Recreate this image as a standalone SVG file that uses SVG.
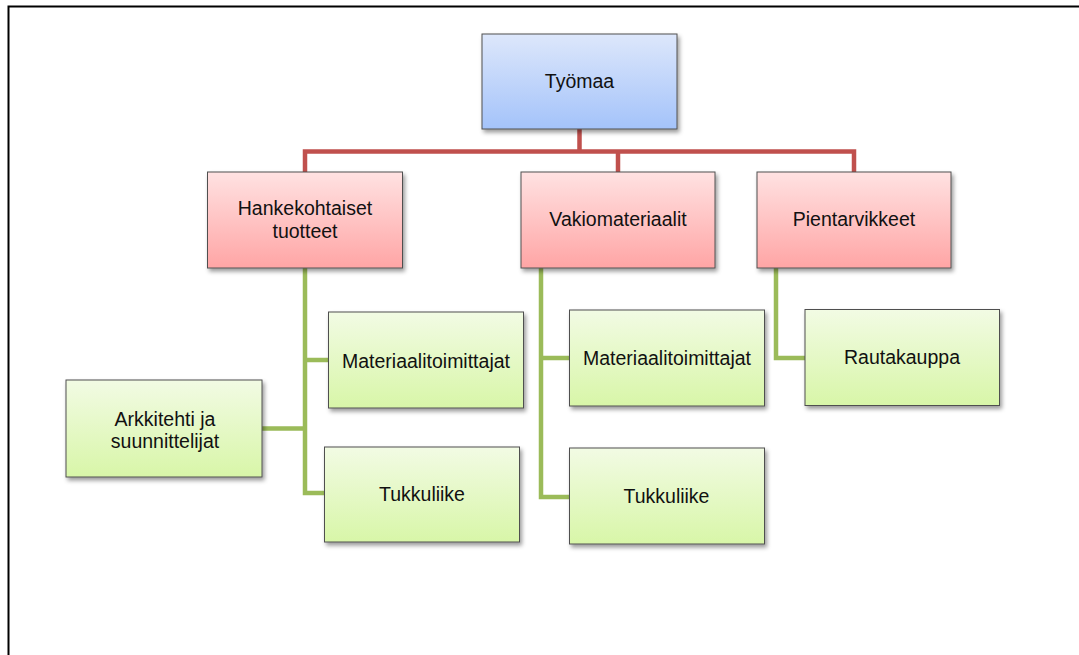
<svg xmlns="http://www.w3.org/2000/svg" width="1079" height="655" viewBox="0 0 1079 655">
<defs>
<linearGradient id="gBlue" x1="0" y1="0" x2="0" y2="1"><stop offset="0" stop-color="#dde7fb"/><stop offset="1" stop-color="#a4c3fa"/></linearGradient>
<linearGradient id="gRed" x1="0" y1="0" x2="0" y2="1"><stop offset="0" stop-color="#ffe2e2"/><stop offset="1" stop-color="#ffa5a5"/></linearGradient>
<linearGradient id="gGreen" x1="0" y1="0" x2="0" y2="1"><stop offset="0" stop-color="#f2fbe4"/><stop offset="1" stop-color="#d8f6a8"/></linearGradient>
<filter id="sh" x="-10%" y="-10%" width="125%" height="130%"><feDropShadow dx="2" dy="3" stdDeviation="2" flood-color="#000" flood-opacity="0.4"/></filter>
</defs>
<style>
.box{stroke:#505050;stroke-width:1;filter:url(#sh)}
.b{fill:url(#gBlue)}
.r{fill:url(#gRed)}
.g{fill:url(#gGreen)}
text{font-family:"Liberation Sans",Arial,sans-serif;font-size:19.5px;fill:#111;text-anchor:middle}
.cr{fill:none;stroke:#c0504d;stroke-width:4.5}
.cg{fill:none;stroke:#9bbb59;stroke-width:4.5}
</style>
<rect x="0" y="0" width="1079" height="655" fill="#fff"/>
<rect x="8.5" y="6.5" width="1080" height="660" fill="none" stroke="#000" stroke-width="2"/>
<g id="connectors">
<path class="cr" d="M579.5 129V151.5M305 172V151.5H854V172M618 151.5V172"/>
<path class="cg" d="M305 268V493H325M305 360H328M262 428.5H305"/>
<path class="cg" d="M541 268V497H569M541 358H569"/>
<path class="cg" d="M776 268V358H805"/>
</g>
<g id="tyomaa"><rect class="box b" x="482" y="34" width="195" height="95"/><text x="579.5" y="88">Työmaa</text></g>
<g id="hankekohtaiset"><rect class="box r" x="207.5" y="172" width="195" height="96"/><text x="305" y="215">Hankekohtaiset</text><text x="305" y="237.5">tuotteet</text></g>
<g id="vakiomateriaalit"><rect class="box r" x="521" y="172" width="194" height="96"/><text x="618" y="226">Vakiomateriaalit</text></g>
<g id="pientarvikkeet"><rect class="box r" x="757" y="172" width="194" height="96"/><text x="854" y="226">Pientarvikkeet</text></g>
<g id="materiaali1"><rect class="box g" x="328.5" y="312" width="195" height="96"/><text x="426" y="368">Materiaalitoimittajat</text></g>
<g id="tukku1"><rect class="box g" x="324.5" y="447" width="195" height="95"/><text x="422" y="501">Tukkuliike</text></g>
<g id="arkkitehti"><rect class="box g" x="66" y="380" width="196" height="97"/><text x="165" y="425.5">Arkkitehti ja</text><text x="165" y="447.5">suunnittelijat</text></g>
<g id="materiaali2"><rect class="box g" x="569.5" y="310" width="195" height="96"/><text x="667" y="364.5">Materiaalitoimittajat</text></g>
<g id="tukku2"><rect class="box g" x="569.5" y="448" width="195" height="96"/><text x="666.5" y="502.5">Tukkuliike</text></g>
<g id="rautakauppa"><rect class="box g" x="805" y="309.5" width="194.5" height="96"/><text x="902" y="363.5">Rautakauppa</text></g>
</svg>
